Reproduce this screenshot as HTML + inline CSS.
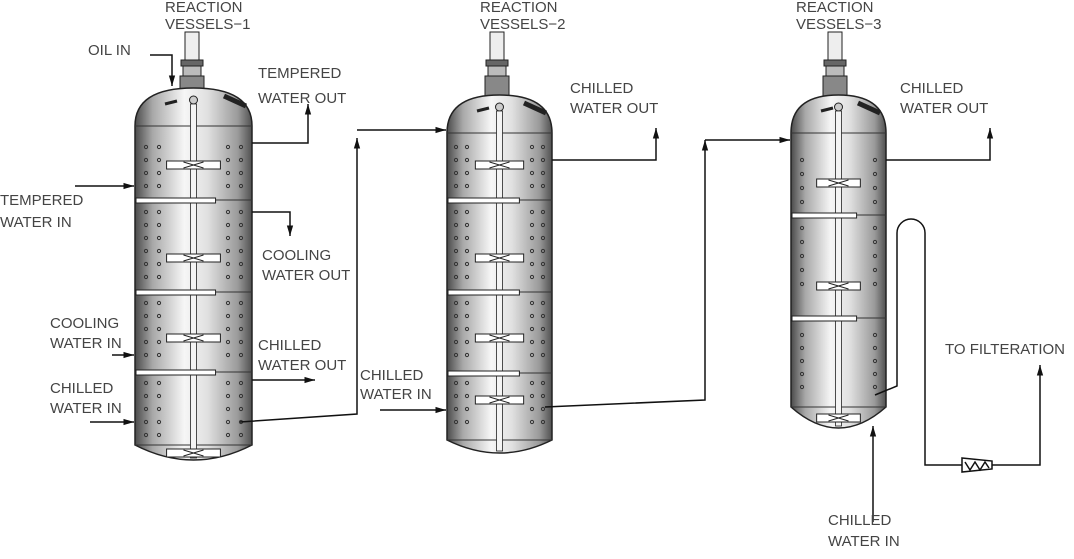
<!DOCTYPE html>
<html><head><meta charset="utf-8"><style>
body{margin:0;background:#fff}
svg{display:block}
text{font-family:"Liberation Sans",sans-serif;font-size:15px;fill:#444}
</style></head><body>
<svg id="s" width="1074" height="559" viewBox="0 0 1074 559" xmlns="http://www.w3.org/2000/svg">
<defs>
<linearGradient id="g" x1="0" x2="1" y1="0" y2="0">
<stop offset="0" stop-color="#4a4a4a"/><stop offset="0.15" stop-color="#a8a8a8"/><stop offset="0.42" stop-color="#f6f6f6"/><stop offset="0.62" stop-color="#e0e0e0"/><stop offset="0.88" stop-color="#9a9a9a"/><stop offset="1" stop-color="#505050"/>
</linearGradient>
<marker id="a" viewBox="0 0 10 10" refX="10" refY="5" markerWidth="7" markerHeight="7" orient="auto"><path d="M0,2 L10,5 L0,8z" fill="#111"/></marker>
</defs>
<g id="v"></g>
<g fill="none" stroke="#111" stroke-width="1.5">
<path d="M150,55 H172 V86" marker-end="url(#a)"/>
<path d="M252,143 H308 V104" marker-end="url(#a)"/>
<path d="M75,186 H134" marker-end="url(#a)"/>
<path d="M252,212 H290 V236" marker-end="url(#a)"/>
<path d="M112,355 H134" marker-end="url(#a)"/>
<path d="M252,380 H315" marker-end="url(#a)"/>
<path d="M90,422 H134" marker-end="url(#a)"/>
<path d="M240,422 L357,414 V138" marker-end="url(#a)"/>
<path d="M357,130 H446" marker-end="url(#a)"/>
<path d="M380,410 H446" marker-end="url(#a)"/>
<path d="M552,160 H656 V128" marker-end="url(#a)"/>
<path d="M545,407 L705,400 V140" marker-end="url(#a)"/>
<path d="M705,140 H790" marker-end="url(#a)"/>
<path d="M886,160 H990 V128" marker-end="url(#a)"/>
<path d="M875,395 L897,386 V233 A12,12 0 0 1 925,233 V465 H962"/>
<path d="M992,465 H1040 V365" marker-end="url(#a)"/>
<path d="M873,522 V426" marker-end="url(#a)"/>
<path d="M962,458 L992,461 V469 L962,472Z" fill="#fff"/>
<path d="M965,462 L970,470 L975,462 L980,470 L985,462 L989,468"/>
</g>
<text x="165" y="12">REACTION</text><text x="165" y="29">VESSELS−1</text>
<text x="480" y="12">REACTION</text><text x="480" y="29">VESSELS−2</text>
<text x="796" y="12">REACTION</text><text x="796" y="29">VESSELS−3</text>
<text x="88" y="55">OIL  IN</text>
<text x="258" y="78">TEMPERED</text><text x="258" y="103">WATER  OUT</text>
<text x="0" y="205">TEMPERED</text><text x="0" y="227">WATER  IN</text>
<text x="262" y="260">COOLING</text><text x="262" y="280">WATER OUT</text>
<text x="50" y="328">COOLING</text><text x="50" y="348">WATER IN</text>
<text x="258" y="350">CHILLED</text><text x="258" y="370">WATER  OUT</text>
<text x="50" y="393">CHILLED</text><text x="50" y="413">WATER  IN</text>
<text x="360" y="380">CHILLED</text><text x="360" y="399">WATER  IN</text>
<text x="570" y="93">CHILLED</text><text x="570" y="113">WATER  OUT</text>
<text x="900" y="93">CHILLED</text><text x="900" y="113">WATER  OUT</text>
<text x="945" y="354">TO  FILTERATION</text>
<text x="828" y="525">CHILLED</text><text x="828" y="546">WATER  IN</text>
</svg>
<script>
var NS="http://www.w3.org/2000/svg",G=document.getElementById('v');
function el(t,a){var e=document.createElementNS(NS,t);for(var k in a)e.setAttribute(k,a[k]);G.appendChild(e);return e}
function vessel(x1,x2,top,bot,dd,mx,mw,mtop,bars,imps,rows){
 var w=x2-x1,cx=(x1+x2)/2,dh=38,body=top+dh;
 el('rect',{x:mx,y:mtop,width:mw,height:28,fill:'#eee',stroke:'#222'});
 el('rect',{x:mx-4,y:mtop+28,width:mw+8,height:6,fill:'#666',stroke:'#222'});
 el('rect',{x:mx-2,y:mtop+34,width:mw+4,height:10,fill:'#bbb',stroke:'#222'});
 el('rect',{x:mx-5,y:mtop+44,width:mw+10,height:top-mtop-44+4,fill:'#888',stroke:'#222'});
 el('path',{d:'M'+x1+','+body+' Q'+x1+','+(top)+' '+cx+','+top+' Q'+x2+','+top+' '+x2+','+body+' V'+bot+' Q'+cx+','+(bot+dd)+' '+x1+','+bot+' Z',fill:'url(#g)',stroke:'#222','stroke-width':1.5});
 el('line',{x1:x1,y1:body,x2:x2,y2:body,stroke:'#333'});
 el('line',{x1:x1,y1:bot,x2:x2,y2:bot,stroke:'#333'});
 el('line',{x1:x2-28,y1:top+8,x2:x2-6,y2:top+18,stroke:'#222','stroke-width':5});
 el('line',{x1:x1+30,y1:top+16,x2:x1+42,y2:top+13,stroke:'#222','stroke-width':3});
 el('circle',{cx:cx,cy:top+12,r:4,fill:'#ccc',stroke:'#222'});
 el('rect',{x:cx-3,y:top+16,width:6,height:bot-top-16+dd/2-2,fill:'#f4f4f4',stroke:'#222','stroke-width':0.8});
 bars.forEach(function(y){el('line',{x1:x1,y1:y,x2:x2,y2:y,stroke:'#333'});el('rect',{x:x1+1,y:y-2,width:w*0.68,height:5,fill:'#fff',stroke:'#222'})});
 imps.forEach(function(y){el('rect',{x:cx-w*0.23,y:y-4,width:w*0.46,height:8,fill:'#fff',stroke:'#222'});el('path',{d:'M'+(cx-10)+','+(y-3)+' L'+(cx+10)+','+(y+3)+' M'+(cx-10)+','+(y+3)+' L'+(cx+10)+','+(y-3),stroke:'#222'})});
 rows.forEach(function(r){for(var y=r[0];y<=r[1];y+=r[2]){r[3].forEach(function(dx){el('circle',{cx:dx<0?x2+dx:x1+dx,cy:y,r:1.6,fill:'none',stroke:'#333'})})}});
}
vessel(135,252,88,445,30,185,14,32,[200,292,372],[165,258,338,453],[[147,190,13,[11,24,-24,-11]],[212,282,13,[11,24,-24,-11]],[303,362,13,[11,24,-24,-11]],[383,435,13,[11,24,-24,-11]]]);
vessel(447,552,95,440,26,490,14,32,[200,292,373],[165,258,338,400],[[147,190,13,[9,20,-20,-9]],[212,282,13,[9,20,-20,-9]],[303,362,13,[9,20,-20,-9]],[383,430,13,[9,20,-20,-9]]]);
vessel(791,886,95,407,42,828,14,32,[215,318],[183,286,418],[[160,205,14,[11,-11]],[228,285,14,[11,-11]],[335,395,13,[11,-11]]]);
</script>
</body></html>
